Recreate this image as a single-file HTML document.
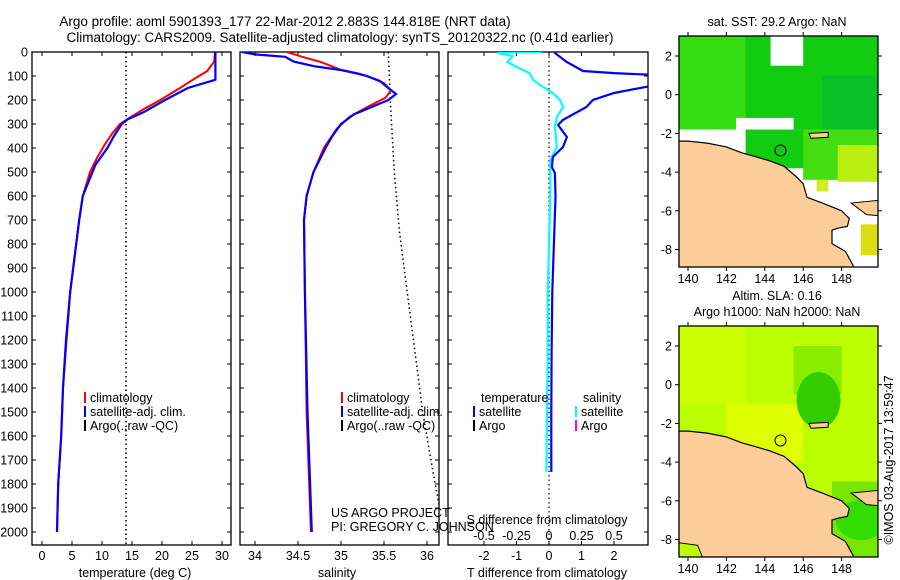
<!DOCTYPE html>
<html><head><meta charset="utf-8"><style>
body{margin:0;background:#fff}
svg{display:block;font-family:"Liberation Sans",sans-serif}
text{font-size:12.5px;fill:#000}
</style></head><body>
<svg id="fig" width="900" height="580" viewBox="0 0 900 580">
<text x="285" y="26" text-anchor="middle" style="font-size:13.5px">Argo profile: aoml 5901393_177 22-Mar-2012 2.883S 144.818E (NRT data)</text>
<text x="340" y="42" text-anchor="middle" style="font-size:13.5px">Climatology: CARS2009. Satellite-adjusted climatology: synTS_20120322.nc (0.41d earlier)</text>
<text x="777" y="26" text-anchor="middle">sat. SST: 29.2 Argo: NaN</text>
<text x="777" y="300" text-anchor="middle">Altim. SLA: 0.16</text>
<text x="777" y="316" text-anchor="middle">Argo h1000: NaN h2000: NaN</text>
<text transform="translate(893,460) rotate(-90)" text-anchor="middle">©IMOS 03-Aug-2017 13:59:47</text>
<g id="g"></g>
</svg>
<script>
// ---------- data ----------
const depthTicks=[0,100,200,300,400,500,600,700,800,900,1000,1100,1200,1300,1400,1500,1600,1700,1800,1900,2000];
const tempTicks=[0,5,10,15,20,25,30];
const salTicks=[34,34.5,35,35.5,36];
const tdiffTicks=[-2,-1,0,1,2];
const sdiffTicks=[-0.5,-0.25,0,0.25,0.5];
const climTDepth=[0,10,40,80,110,150,200,240,280,300,340,380,440,500,600,700,800,1000,1200,1400,1600,1800,2000];
const climTVal=[28.8,28.8,28.7,27.5,25.5,23,19.7,16.8,14.2,13,11.7,10.6,9.2,8,6.8,6.2,5.7,4.7,4.1,3.5,3.2,2.7,2.5];
const satTDepth=[0,50,115,118,150,200,250,280,300,350,400,470,600,700,800,1000,1200,1400,1600,1800,2000];
const satTVal=[28.9,28.9,28.9,28.6,24.3,20.5,17,14.3,13.3,12,10.9,8.9,6.8,6.2,5.7,4.7,4.0,3.5,3.2,2.7,2.5];
const climRefDepth=[0,2060];
const climRefTemp=[14,14];
const climSDepth=[0,20,40,60,75,100,130,160,190,230,270,320,400,500,600,700,1000,1500,2000];
const climSVal=[34.37,34.55,34.75,34.9,35.0,35.3,35.5,35.58,35.52,35.3,35.1,34.95,34.8,34.68,34.6,34.57,34.58,34.6,34.65];
const satSDepth=[0,10,20,40,60,75,90,100,120,150,175,200,230,260,300,350,400,450,500,600,700,1000,1500,2000];
const satSVal=[33.85,34.0,34.35,34.45,34.7,35.0,35.2,35.3,35.45,35.55,35.64,35.55,35.35,35.15,35.0,34.9,34.82,34.75,34.68,34.6,34.57,34.58,34.61,34.66];
const refSDepth=[0,250,500,750,1000,1250,1500,1750,2000];
const refSVal=[35.55,35.58,35.62,35.68,35.77,35.86,35.95,36.07,36.2];
const dTDepth=[0,4,42,79,88,96,137,171,200,229,283,304,354,396,437,479,504,604,800,1000,1250,1500,1750];
const dTVal=[0.18,0.18,0.55,1.05,2.0,3.3,3.3,2.0,1.35,1.15,0.43,0.28,0.55,0.43,0.12,0.09,0.18,0.2,0.15,0.1,0.08,0.07,0.07];
const dSDepth=[0,2,17,42,62,88,117,137,171,200,229,271,312,396,450,604,800,1000,1250,1500,1750];
const dSVal=[-0.05,-0.4,-0.28,-0.32,-0.25,-0.15,-0.12,-0.07,0.03,0.085,0.11,0.06,0.045,0.06,0.01,0.01,0.0,-0.01,-0.01,-0.015,-0.02];
const lonTicks=[140,142,144,146,148];
const latTicks=[2,0,-2,-4,-6,-8];
const coastLon=[140,141,142,142.8,143.5,144.2,145,145.6,146,146.2,147,148,148.4,148.3,147.8,147.5,147.5,148.2,148.7];
const coastLat=[-2.4,-2.5,-2.7,-3.0,-3.2,-3.4,-3.7,-4.2,-4.6,-5.3,-5.6,-6.0,-6.4,-6.8,-6.9,-7.0,-7.7,-8.1,-9];
// ---------- drawing ----------
const NS='http://www.w3.org/2000/svg';
const G=document.getElementById('g');
function mk(tag,at,parent){const e=document.createElementNS(NS,tag);for(const k in at)e.setAttribute(k,at[k]);(parent||G).appendChild(e);return e;}
const yD=d=>52+d*0.24;
const P=[{x0:32,x1:231,sx:v=>42+v*6},{x0:240,x1:439,sx:v=>255+(v-34)*86},{x0:448,x1:648,sx:v=>549+v*32.5,ss:v=>549+v*130}];
const Y0=52,Y1=545;
P.forEach((p,i)=>{
  const cp=mk('clipPath',{id:'cp'+i});
  mk('rect',{x:p.x0,y:Y0,width:p.x1-p.x0,height:Y1-Y0},cp);
});
function line(pi,xs,ys,fx,attrs,name){
  let d='';for(let i=0;i<xs.length;i++)d+=(i?'L':'M')+fx(xs[i]).toFixed(1)+','+yD(ys[i]).toFixed(1);
  const e=mk('path',Object.assign({d:d,fill:'none','clip-path':'url(#cp'+pi+')'},attrs));
  
  
}
P.forEach((p,i)=>{
  const r=mk('rect',{x:p.x0,y:Y0,width:p.x1-p.x0,height:Y1-Y0,fill:'none',stroke:'#000','stroke-width':1.3});
  
  
  depthTicks.forEach(d=>{
    mk('line',{x1:p.x0,x2:p.x0+4,y1:yD(d),y2:yD(d),stroke:'#000'});
    mk('line',{x1:p.x1,x2:p.x1-4,y1:yD(d),y2:yD(d),stroke:'#000'});
  });
});
depthTicks.forEach(d=>{
  const t=mk('text',{x:28,y:yD(d)+4.5,'text-anchor':'end'});t.textContent=d;
  
  
});
function xticks(vals,f,y,labels,name){
  vals.forEach(v=>{
    const x=f(v);
    mk('line',{x1:x,x2:x,y1:Y0,y2:Y0+4,stroke:'#000'});
    mk('line',{x1:x,x2:x,y1:Y1,y2:Y1-4,stroke:'#000'});
    if(labels){const t=mk('text',{x:x,y:y,'text-anchor':'middle'});t.textContent=v;
      
      }
  });
}
xticks(tempTicks,P[0].sx,560,true,'temperature-tick-label');
xticks(salTicks,P[1].sx,560,true,'salinity-tick-label');
xticks(tdiffTicks,P[2].sx,560,true,'t-diff-tick-label');
sdiffTicks.forEach(v=>{const t=mk('text',{x:P[2].ss(v),y:540,'text-anchor':'middle'});t.textContent=v;
  
  });
function txt(x,y,s,name,anchor){const t=mk('text',{x:x,y:y,'text-anchor':anchor||'start'});t.textContent=s;
  
  return t;}
txt(135,577,'temperature (deg C)','temperature-axis-title','middle');
txt(337,577,'salinity','salinity-axis-title','middle');
txt(547,577,'T difference from climatology','t-diff-axis-title','middle');
txt(547,524,'S difference from climatology','s-diff-axis-title','middle');
txt(331,517,'US ARGO PROJECT','project-label');
txt(331,531,'PI: GREGORY C. JOHNSON','pi-label');
line(0,climRefTemp,climRefDepth,P[0].sx,{stroke:'#000','stroke-width':1.5,'stroke-dasharray':'1.5,3'},'temperature-reference-dotted');
line(0,climTVal,climTDepth,P[0].sx,{stroke:'#f00','stroke-width':2},'temperature-climatology-line');
line(0,satTVal,satTDepth,P[0].sx,{stroke:'#00f','stroke-width':2.2},'temperature-satellite-line');
line(1,refSVal,refSDepth,P[1].sx,{stroke:'#000','stroke-width':1.5,'stroke-dasharray':'1.5,3'},'salinity-reference-dotted');
line(1,climSVal,climSDepth,P[1].sx,{stroke:'#f00','stroke-width':2},'salinity-climatology-line');
line(1,satSVal,satSDepth,P[1].sx,{stroke:'#00f','stroke-width':2.2},'salinity-satellite-line');
mk('line',{x1:549,x2:549,y1:Y0,y2:Y1,stroke:'#000','stroke-width':1.2,'stroke-dasharray':'1.5,3'});
line(2,dSVal,dSDepth,P[2].ss,{stroke:'#0ff','stroke-width':2.2},'s-diff-satellite-line');
line(2,dTVal,dTDepth,P[2].sx,{stroke:'#00f','stroke-width':2.2},'t-diff-satellite-line');
function leg(x,y,col,s,name){mk('rect',{x:x,y:y-10,width:2,height:11,fill:col});txt(x+6,y,s,name);}
leg(84,402,'#f00','climatology','legend-climatology');
leg(84,416,'#00f','satellite-adj. clim.','legend-satellite');
leg(84,430,'#000','Argo(..raw -QC)','legend-argo');
leg(341,402,'#f00','climatology','legend2-climatology');
leg(341,416,'#00f','satellite-adj. clim.','legend2-satellite');
leg(341,430,'#000','Argo(..raw -QC)','legend2-argo');
txt(481,402,'temperature','legend3-temperature-heading');
txt(583,402,'salinity','legend3-salinity-heading');
leg(473,416,'#00f','satellite','legend3-t-satellite');
leg(473,430,'#000','Argo','legend3-t-argo');
leg(575,416,'#0ff','satellite','legend3-s-satellite');
leg(575,430,'#f0f','Argo','legend3-s-argo');
function map(top,kind){
  const X0=679,X1=878,H=231;
  const lx=l=>688+(l-140)*19.2, ly=l=>top+20+(2-l)*19.35;
  const cid='mc'+kind;const cp=mk('clipPath',{id:cid});mk('rect',{x:X0,y:top,width:X1-X0,height:H},cp);
  const g=mk('g',{'clip-path':'url(#'+cid+')'});
  
  
  const R=(a,b,c,d,f)=>mk('rect',{x:lx(a),y:ly(b),width:lx(c)-lx(a),height:ly(d)-ly(b),fill:f},g);
  if(kind==='sst'){
    mk('rect',{x:X0,y:top,width:X1-X0,height:H,fill:'#fff'},g);
    R(139,3.5,151,-1.8,'#11cc11');
    R(139,3.5,143,-1.8,'#33dd11');
    R(147,1,151,-1.8,'#08c028');
    R(144.3,3.5,146,1.5,'#fff');
    R(142.5,-1.2,145.5,-2,'#fff');
    R(139,-1.8,141.5,-2.6,'#fff');
    R(143,-1.8,150,-3.8,'#11cc11');
    R(146,-1.8,150,-4.4,'#44dd11');
    R(147.8,-2.6,150,-4.5,'#bbee11');
    R(146.7,-4.4,147.3,-5,'#ccee22');
    R(149,-6.7,150,-8.3,'#dddd11');
    R(144.5,-8.6,146,-9.2,'#22cc22');
  } else {
    mk('rect',{x:X0,y:top,width:X1-X0,height:H,fill:'#bbff00'},g);
    R(139,3.5,143,-1,'#ccff00');
    R(142,-1,146,-4,'#ddff00');
    R(145.5,2,148,-0.5,'#88ee00');
    mk('ellipse',{cx:lx(146.8),cy:ly(-0.8),rx:22,ry:28,fill:'#33cc00'},g);
    R(147.5,-5,150,-9,'#77e600');
    mk('ellipse',{cx:lx(149),cy:ly(-7),rx:25,ry:20,fill:'#33dd00'},g);
    R(143.5,-7.6,146.5,-9.2,'#22cc00');
  }
  let d='M'+lx(139)+','+ly(coastLat[0]);
  coastLon.forEach((v,i)=>d+='L'+lx(v).toFixed(1)+','+ly(coastLat[i]).toFixed(1));
  d+='L'+lx(139)+','+ly(-9.5)+'Z';
  const land=mk('path',{d:d,fill:'#fccc99',stroke:'#000','stroke-width':1.2},g);
  
  
  mk('path',{d:'M'+lx(148.5)+','+ly(-5.6)+'L'+lx(150.5)+','+ly(-5.4)+'L'+lx(150.5)+','+ly(-6.3)+'L'+lx(149.3)+','+ly(-6.2)+'Z',fill:'#fccc99',stroke:'#000'},g);
  mk('path',{d:'M'+lx(146.3)+','+ly(-2)+'L'+lx(147.3)+','+ly(-1.95)+'L'+lx(147.3)+','+ly(-2.2)+'L'+lx(146.4)+','+ly(-2.25)+'Z',fill:'#fccc99',stroke:'#000'},g);
  if(kind==='sla')mk('path',{d:'M'+lx(139)+','+ly(-8.1)+'L'+lx(140.5)+','+ly(-8.3)+'L'+lx(141)+','+ly(-9.5)+'L'+lx(139)+','+ly(-9.5)+'Z',fill:'#bbff00',stroke:'#000'},g);
  const c=mk('circle',{cx:lx(144.818),cy:ly(-2.883),r:5.5,fill:'none',stroke:'#000'},g);
  
  
  mk('rect',{x:X0,y:top,width:X1-X0,height:H,fill:'none',stroke:'#000','stroke-width':1.3});
  lonTicks.forEach(l=>{mk('line',{x1:lx(l),x2:lx(l),y1:top,y2:top-4,stroke:'#000'});
    mk('line',{x1:lx(l),x2:lx(l),y1:top+H,y2:top+H+4,stroke:'#000'});
    const t=mk('text',{x:lx(l),y:top+H+16,'text-anchor':'middle'});t.textContent=l;
    
    });
  latTicks.forEach(l=>{mk('line',{x1:X0,x2:X0-4,y1:ly(l),y2:ly(l),stroke:'#000'});
    mk('line',{x1:X1,x2:X1+4,y1:ly(l),y2:ly(l),stroke:'#000'});
    const t=mk('text',{x:X0-7,y:ly(l)+4.5,'text-anchor':'end'});t.textContent=l;
    
    });
}
map(36,'sst');
map(326,'sla');
</script>
</body></html>
